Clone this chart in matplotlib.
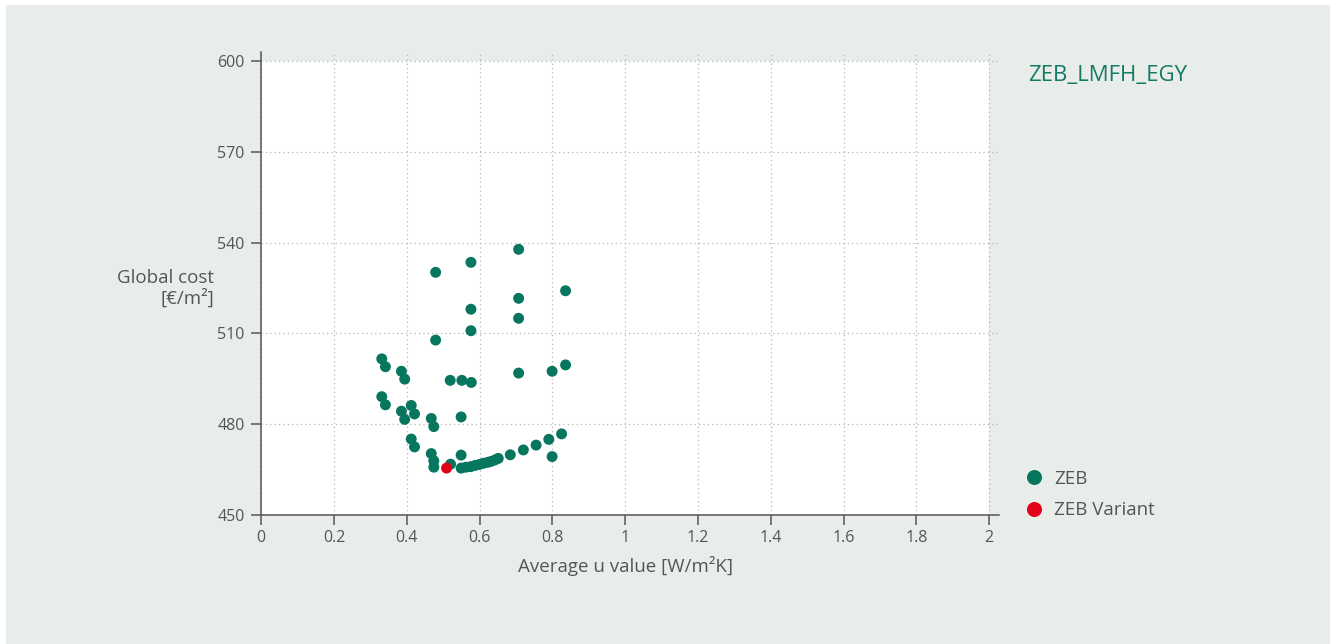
import matplotlib
matplotlib.use("Agg")
import matplotlib.pyplot as plt
from matplotlib.patches import Rectangle
from matplotlib.lines import Line2D

plt.rcParams['font.family'] = ['Open Sans', 'DejaVu Sans']

# ZEB solutions: average u value [W/m2K] and global cost [EUR/m2]
zeb_u = [0.707, 0.576, 0.479, 0.836, 0.707, 0.576, 0.707, 0.576, 0.479,
         0.331, 0.341, 0.385, 0.394, 0.519, 0.551, 0.577, 0.707, 0.799, 0.836,
         0.331, 0.341, 0.385, 0.394, 0.412, 0.421, 0.467, 0.474, 0.549,
         0.412, 0.421, 0.467, 0.474, 0.474, 0.520, 0.549,
         0.549, 0.562, 0.576, 0.588, 0.599, 0.610, 0.622, 0.631, 0.642, 0.651,
         0.684, 0.720, 0.755, 0.790, 0.825, 0.799]
zeb_cost = [537.8, 533.5, 530.2, 524.1, 521.6, 518.0, 515.0, 510.9, 507.8,
            501.6, 499.0, 497.5, 494.9, 494.5, 494.5, 493.8, 496.9, 497.5, 499.6,
            489.1, 486.4, 484.3, 481.6, 486.2, 483.4, 481.9, 479.2, 482.4,
            475.1, 472.5, 470.3, 467.9, 465.8, 466.8, 469.8,
            465.5, 465.8, 466.0, 466.4, 466.7, 467.1, 467.4, 467.7, 468.2, 468.7,
            469.9, 471.5, 473.1, 475.0, 476.8, 469.3]

# selected variant
variant_u = [0.509]
variant_cost = [465.5]

title = 'ZEB_LMFH_EGY'
xticks = [0, 0.2, 0.4, 0.6, 0.8, 1, 1.2, 1.4, 1.6, 1.8, 2]
xticklabels = ['0', '0.2', '0.4', '0.6', '0.8', '1', '1.2', '1.4', '1.6', '1.8', '2']
yticks = [450, 480, 510, 540, 570, 600]

green = '#07765e'
red = '#e2001a'
panel = '#e9edea'
textc = '#555555'

W, H = 1330, 644
fig = plt.figure(figsize=(W / 100, H / 100), dpi=100, facecolor='white')
fig.patches.append(Rectangle((6 / W, 0), 1 - 6 / W, 1 - 5 / H, transform=fig.transFigure,
                             facecolor=panel, edgecolor='none', zorder=-10))

# axes box in pixels
x0, x1 = 261.3, 998.7
y0, y1 = 515, 52
ax = fig.add_axes([x0 / W, 1 - y0 / H, (x1 - x0) / W, (y0 - y1) / H])
ax.set_facecolor(panel)
ax.set_xlim(0, 2.026)
ax.set_ylim(450, 603)
ax.add_patch(Rectangle((0, 450), 2, 150, facecolor='white', edgecolor='none', zorder=0))

ax.grid(True, linestyle=(0, (1, 2.5)), color='#b5b5b5', linewidth=0.9, zorder=1)
for s in ['top', 'right']:
    ax.spines[s].set_visible(False)
for s in ['left', 'bottom']:
    ax.spines[s].set_color(textc)
    ax.spines[s].set_linewidth(1.1)

ax.set_xticks(xticks)
ax.set_xticklabels(xticklabels)
ax.set_yticks(yticks)
ax.tick_params(colors=textc, labelcolor=textc, labelsize=11.5, length=7, width=1.1,
               direction='out')
ax.tick_params(axis='x', pad=4)
ax.tick_params(axis='y', pad=5)

ax.scatter(zeb_u, zeb_cost, s=62, color=green, edgecolors='none', zorder=3)
ax.scatter(variant_u, variant_cost, s=62, color=red, edgecolors='none', zorder=4)

fig.text(214 / W, 1 - 288 / H, 'Global cost\n[€/m²]', ha='right', va='center',
         multialignment='right', color=textc, fontsize=13.5, linespacing=1.1)
fig.text(625 / W, 1 - 566 / H, 'Average u value [W/m²K]', ha='center', va='center',
         color=textc, fontsize=13.5)
fig.text(1028 / W, 1 - 75 / H, title, ha='left', va='center', color='#137a66',
         fontsize=16)

handles = [Line2D([], [], marker='o', linestyle='none', markersize=10.8,
                  markerfacecolor=green, markeredgecolor='none', label='ZEB'),
           Line2D([], [], marker='o', linestyle='none', markersize=10.8,
                  markerfacecolor=red, markeredgecolor='none', label='ZEB Variant')]
leg = fig.legend(handles=handles, loc='upper left', bbox_to_anchor=(1020 / W, 1 - 470 / H),
                 frameon=False, fontsize=13.5, handlelength=1.5, handletextpad=0.32,
                 labelspacing=0.7, borderaxespad=0, borderpad=0)
for t in leg.get_texts():
    t.set_color(textc)

fig.savefig('out.png', dpi=100, facecolor=fig.get_facecolor())
